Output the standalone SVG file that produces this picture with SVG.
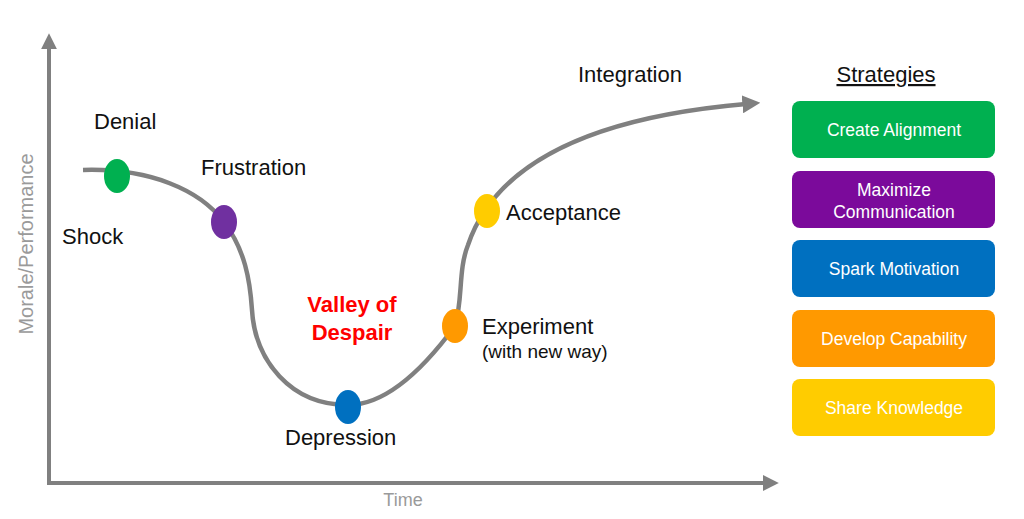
<svg xmlns="http://www.w3.org/2000/svg" width="1024" height="519" viewBox="0 0 1024 519">
<style>
.lbl{font-family:"Liberation Sans",Arial,sans-serif;font-size:22px;fill:#111}
.small{font-size:19px}
.axis-lbl{font-family:"Liberation Sans",Arial,sans-serif;font-size:18px;fill:#9a9a9a}
.vert{font-size:20px}
.box-txt{font-family:"Liberation Sans",Arial,sans-serif;font-size:17.5px;fill:#fff;text-anchor:middle}
.valley{font-family:"Liberation Sans",Arial,sans-serif;font-size:22px;font-weight:bold;fill:#ff0000;text-anchor:middle}
.axis{stroke:#808080;stroke-width:4;fill:none}
.curve{stroke:#808080;stroke-width:4.5;fill:none}
</style>
<defs>
<marker id="arr" viewBox="0 0 10 10" refX="2" refY="5" markerWidth="4" markerHeight="4" orient="auto" markerUnits="strokeWidth">
<path d="M0,0 L10,5 L0,10 z" fill="#808080"/>
</marker>
</defs>
<rect width="1024" height="519" fill="#fff"/>
<g id="axes">
<path class="axis" d="M49,483 L49,46" marker-end="url(#arr)"/>
<path class="axis" d="M47,483 L766,483" marker-end="url(#arr)"/>
<text class="axis-lbl" x="403" y="506" text-anchor="middle">Time</text>
<text class="axis-lbl vert" transform="translate(33,244) rotate(-90)" text-anchor="middle">Morale/Performance</text>
</g>
<g id="connectors">
<path class="curve" d="M83,170 C150,168 200,190 224,222 C245,250 250,280 252,310 C255,360 290,405 348,405 C390,405 430,360 455,326 C463,300 458,270 468,245 C490,180 560,120 746,104" marker-end="url(#arr)"/>
</g>
<g id="denial"><ellipse cx="117" cy="176" rx="13" ry="17" fill="#00b050"/><text class="lbl" x="94" y="129">Denial</text></g>
<g id="shock"><text class="lbl" x="62" y="244">Shock</text></g>
<g id="frustration"><ellipse cx="224" cy="222" rx="13" ry="17" fill="#7030a0"/><text class="lbl" x="201" y="175">Frustration</text></g>
<g id="depression"><ellipse cx="348" cy="407" rx="13" ry="17" fill="#0070c0"/><text class="lbl" x="285" y="445">Depression</text></g>
<g id="experiment"><ellipse cx="455" cy="326" rx="13" ry="17" fill="#ff9900"/><text class="lbl" x="482" y="334">Experiment</text><text class="lbl small" x="482" y="358">(with new way)</text></g>
<g id="acceptance"><ellipse cx="487" cy="211" rx="13" ry="17" fill="#ffcc00"/><text class="lbl" x="506" y="220">Acceptance</text></g>
<g id="integration"><text class="lbl" x="578" y="82">Integration</text></g>
<g id="valley"><text class="valley" x="352" y="312">Valley of</text><text class="valley" x="352" y="340">Despair</text></g>
<g id="strategies">
<text class="lbl" x="886" y="82" text-anchor="middle" text-decoration="underline">Strategies</text>
</g>
<g id="s1"><rect x="792" y="101" width="203" height="57" rx="8" fill="#00b050"/><text class="box-txt" x="894" y="136">Create Alignment</text></g>
<g id="s2"><rect x="792" y="171" width="203" height="57" rx="8" fill="#7b0a9b"/><text class="box-txt" x="894" y="196">Maximize</text><text class="box-txt" x="894" y="218">Communication</text></g>
<g id="s3"><rect x="792" y="240" width="203" height="57" rx="8" fill="#0070c0"/><text class="box-txt" x="894" y="275">Spark Motivation</text></g>
<g id="s4"><rect x="792" y="310" width="203" height="57" rx="8" fill="#ff9900"/><text class="box-txt" x="894" y="345">Develop Capability</text></g>
<g id="s5"><rect x="792" y="379" width="203" height="57" rx="8" fill="#ffcc00"/><text class="box-txt" x="894" y="414">Share Knowledge</text></g>
</svg>
